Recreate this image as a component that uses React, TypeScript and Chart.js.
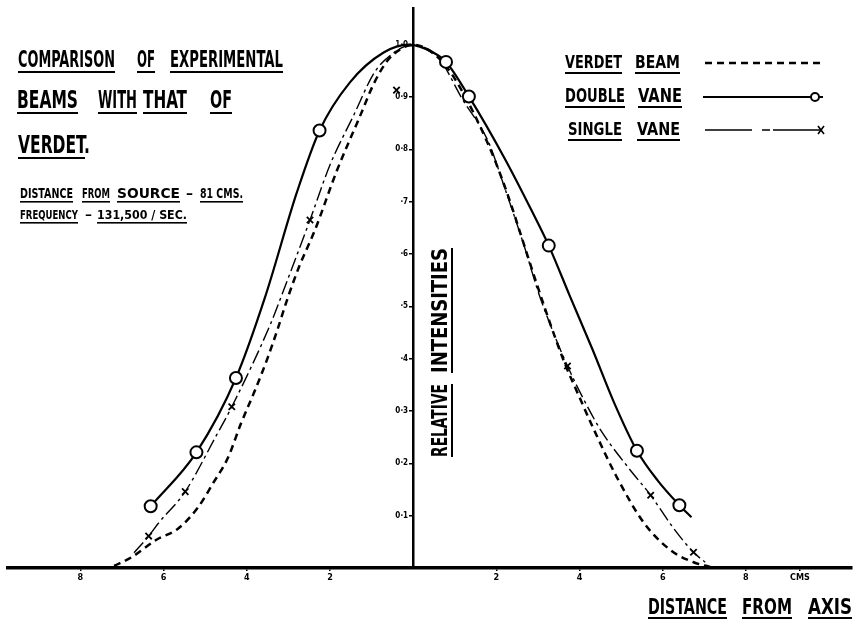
import { useEffect, useRef } from "react";
import { Chart, registerables } from "chart.js";

Chart.register(...registerables);

// ---- data (x in cm from axis, y = relative intensity) ----
const VERDET_X = [-7.19, -6.76, -6.19, -5.64, -5.17, -4.81, -4.45, -4.14, -3.81, -3.5, -3.26, -3.02, -2.74, -2.36, -1.83, -1.29, -0.93, -0.6, -0.29, 0.0, 0.55, 0.9, 1.26, 1.62, 1.98, 2.33, 2.64, 2.95, 3.29, 3.64, 3.95, 4.36, 4.9, 5.55, 6.19, 6.74, 7.14];
const VERDET_Y = [0.004, 0.021, 0.053, 0.076, 0.116, 0.162, 0.211, 0.276, 0.338, 0.401, 0.456, 0.515, 0.576, 0.646, 0.76, 0.861, 0.928, 0.971, 0.992, 1.0, 0.979, 0.947, 0.899, 0.842, 0.776, 0.7, 0.624, 0.548, 0.468, 0.392, 0.335, 0.262, 0.173, 0.086, 0.034, 0.011, 0.002];

const DOUBLE_X = [-6.31, -5.21, -4.26, -3.57, -2.79, -2.25, -1.52, -0.71, -0.1, 0.48, 0.79, 1.34, 2.21, 2.86, 3.26, 3.76, 4.31, 4.83, 5.38, 5.88, 6.4, 6.69];
const DOUBLE_Y = [0.118, 0.221, 0.363, 0.515, 0.719, 0.836, 0.928, 0.985, 1.0, 0.985, 0.967, 0.901, 0.781, 0.681, 0.616, 0.521, 0.418, 0.316, 0.224, 0.167, 0.12, 0.097];
const DOUBLE_MARK_X = [-6.31, -5.21, -4.26, -2.25, 0.79, 1.34, 3.26, 5.38, 6.4];
const DOUBLE_MARK_Y = [0.118, 0.221, 0.363, 0.836, 0.967, 0.901, 0.616, 0.224, 0.12];

const SINGLE_X = [-6.71, -6.36, -6.12, -5.48, -4.76, -4.36, -3.43, -3.17, -2.48, -2.0, -1.43, -0.93, -0.52, -0.1, 0.55, 1.19, 1.81, 2.21, 2.69, 3.0, 3.36, 3.71, 4.12, 4.52, 5.19, 5.71, 6.26, 6.74, 7.02];
const SINGLE_Y = [0.029, 0.061, 0.086, 0.146, 0.249, 0.308, 0.466, 0.519, 0.665, 0.77, 0.865, 0.947, 0.981, 0.998, 0.981, 0.895, 0.814, 0.724, 0.61, 0.529, 0.452, 0.386, 0.319, 0.262, 0.19, 0.139, 0.076, 0.03, 0.011];
const SINGLE_MARK_X = [-6.36, -5.48, -4.36, -2.48, -0.4, 3.71, 5.71, 6.74];
const SINGLE_MARK_Y = [0.061, 0.146, 0.308, 0.665, 0.913, 0.386, 0.139, 0.03];

const X_TICKS = [-8, -6, -4, -2, 2, 4, 6, 8, 9.3];
const X_TICK_LABELS = ["8", "6", "4", "2", "2", "4", "6", "8", "CMS"];
const Y_TICKS = [0.1, 0.2, 0.3, 0.4, 0.5, 0.6, 0.7, 0.8, 0.9, 1.0];
const Y_TICK_LABELS = ["0·1", "0·2", "0·3", "·4", "·5", "·6", "·7", "0·8", "0·9", "1·0"];

const TITLE_LINES = [
  ["COMPARISON", "OF", "EXPERIMENTAL"],
  ["BEAMS", "WITH", "THAT", "OF"],
  ["VERDET."],
];
const NOTE_LINES = [
  ["DISTANCE", "FROM", "SOURCE", "–", "81 CMS."],
  ["FREQUENCY", "–", "131,500 / SEC."],
];
const LEGEND_LABELS = [
  ["VERDET", "BEAM"],
  ["DOUBLE", "VANE"],
  ["SINGLE", "VANE"],
];
const X_TITLE = ["DISTANCE", "FROM", "AXIS"];
const Y_TITLE = ["RELATIVE", "INTENSITIES"];

const FONT = "'DejaVu Sans Condensed', 'Liberation Sans Narrow', 'DejaVu Sans', sans-serif";

const pts = (xs: number[], ys: number[]) => xs.map((x, i) => ({ x, y: ys[i] }));

function word(
  ctx: CanvasRenderingContext2D,
  text: string,
  x0: number,
  x1: number,
  base: number,
  cap: number,
  ul: boolean,
  ulGap = 4,
  ulW = 2
) {
  const size = cap / 0.73;
  ctx.font = `bold ${size}px ${FONT}`;
  const w = ctx.measureText(text).width;
  ctx.save();
  ctx.translate(x0, base);
  ctx.scale((x1 - x0) / w, 1);
  ctx.textBaseline = "alphabetic";
  ctx.textAlign = "left";
  ctx.fillText(text, 0, 0);
  ctx.restore();
  if (ul) ctx.fillRect(x0, base + ulGap, x1 - x0, ulW);
}

const textPlugin = {
  id: "handText",
  afterDraw(chart: any) {
    const ctx: CanvasRenderingContext2D = chart.ctx;
    ctx.save();
    ctx.fillStyle = "#000";
    ctx.strokeStyle = "#000";
    // title
    const t1 = [[18, 115], [137, 155], [170, 283]];
    TITLE_LINES[0].forEach((s, i) => word(ctx, s, t1[i][0], t1[i][1], 67, 17, true, 4, 2));
    const t2 = [[17, 78], [98, 137], [143, 187], [210, 232]];
    TITLE_LINES[1].forEach((s, i) => word(ctx, s, t2[i][0], t2[i][1], 108, 18, true, 4, 2));
    word(ctx, TITLE_LINES[2][0], 18, 90, 153, 18, false);
    ctx.fillRect(18, 157, 67, 2);
    const n1 = [[20, 73], [82, 110], [117, 180], [186, 193], [200, 243]];
    NOTE_LINES[0].forEach((s, i) => word(ctx, s, n1[i][0], n1[i][1], 198, 10, s !== "–", 3, 1.6));
    const n2 = [[20, 78], [85, 92], [97, 187]];
    NOTE_LINES[1].forEach((s, i) => word(ctx, s, n2[i][0], n2[i][1], 219, 9, s !== "–", 3, 1.6));

    // legend
    const lg = [
      [[565, 622], [635, 680], 68, 13],
      [[565, 625], [638, 682], 102, 14],
      [[568, 622], [637, 680], 135, 13],
    ] as any[];
    LEGEND_LABELS.forEach((pair, r) => {
      const [a, b, base, cap] = lg[r];
      word(ctx, pair[0], a[0], a[1], base, cap, true, 4, 2);
      word(ctx, pair[1], b[0], b[1], base, cap, true, 4, 2);
    });
    // legend samples
    ctx.lineWidth = 2.5;
    ctx.setLineDash([7, 5]);
    ctx.beginPath(); ctx.moveTo(705, 63); ctx.lineTo(820, 63); ctx.stroke();
    ctx.setLineDash([]);
    ctx.lineWidth = 2;
    ctx.beginPath(); ctx.moveTo(703, 97); ctx.lineTo(823, 97); ctx.stroke();
    ctx.beginPath(); ctx.arc(815, 97, 4, 0, Math.PI * 2);
    ctx.fillStyle = "#fff"; ctx.fill(); ctx.stroke();
    ctx.fillStyle = "#000";
    ctx.lineWidth = 1.6;
    ctx.setLineDash([47, 10, 8, 3]);
    ctx.beginPath(); ctx.moveTo(705, 130); ctx.lineTo(823, 130); ctx.stroke();
    ctx.setLineDash([]);
    ctx.beginPath(); ctx.moveTo(818, 126); ctx.lineTo(824, 134); ctx.moveTo(824, 126); ctx.lineTo(818, 134); ctx.stroke();

    // x title
    const xt = [[648, 727], [742, 792], [808, 852]];
    X_TITLE.forEach((s, i) => word(ctx, s, xt[i][0], xt[i][1], 614, 15, true, 3, 2));

    // y title (rotated)
    ctx.save();
    ctx.translate(447, 0);
    ctx.rotate(-Math.PI / 2);
    word(ctx, Y_TITLE[0], -457, -384, 0, 15, true, 4, 2);
    word(ctx, Y_TITLE[1], -373, -248, 0, 15, true, 4, 2);
    ctx.restore();
    ctx.restore();
  },
};

export default function App() {
  const ref = useRef<HTMLCanvasElement | null>(null);
  useEffect(() => {
    if (!ref.current) return;
    const chart = new Chart(ref.current, {
      type: "scatter",
      data: {
        datasets: [
          {
            label: "Double vane points",
            data: pts(DOUBLE_MARK_X, DOUBLE_MARK_Y),
            showLine: false,
            pointStyle: "circle",
            pointRadius: 6,
            pointBorderWidth: 2,
            pointBackgroundColor: "#fff",
            pointBorderColor: "#000",
            order: 0,
          },
          {
            label: "Single vane points",
            data: pts(SINGLE_MARK_X, SINGLE_MARK_Y),
            showLine: false,
            pointStyle: "crossRot",
            pointRadius: 4.5,
            pointBorderWidth: 1.8,
            pointBorderColor: "#000",
            order: 0,
          },
          {
            label: "Verdet beam",
            data: pts(VERDET_X, VERDET_Y),
            showLine: true,
            borderColor: "#000",
            borderWidth: 2.5,
            borderDash: [7, 5],
            pointRadius: 0,
            cubicInterpolationMode: "monotone",
            order: 2,
          },
          {
            label: "Double vane",
            data: pts(DOUBLE_X, DOUBLE_Y),
            showLine: true,
            borderColor: "#000",
            borderWidth: 2.2,
            pointRadius: 0,
            cubicInterpolationMode: "monotone",
            order: 1,
          },
          {
            label: "Single vane",
            data: pts(SINGLE_X, SINGLE_Y),
            showLine: true,
            borderColor: "#000",
            borderWidth: 1.4,
            borderDash: [14, 4, 3, 4],
            pointRadius: 0,
            cubicInterpolationMode: "monotone",
            order: 1,
          },
        ],
      },
      options: {
        responsive: false,
        animation: false,
        layout: { padding: { left: 8, right: 0, top: 5, bottom: 0 } },
        plugins: { legend: { display: false }, tooltip: { enabled: false } },
        scales: {
          x: {
            type: "linear",
            min: -9.74,
            max: 10.55,
            position: "bottom",
            afterFit: (s: any) => {
              s.height = 52;
            },
            afterBuildTicks: (s: any) => {
              s.ticks = X_TICKS.map((v) => ({ value: v }));
            },
            ticks: {
              autoSkip: false,
              maxRotation: 0,
              padding: 1,
              color: "#000",
              font: { family: FONT, size: 9, weight: "bold" },
              callback: (_v: any, i: number) => X_TICK_LABELS[i],
            },
            grid: { display: true, drawOnChartArea: false, tickLength: 3, color: "#000", lineWidth: 1.5 },
            border: { display: true, color: "#000", width: 3.5 },
          },
          y: {
            type: "linear",
            min: 0,
            max: 1.07,
            position: { x: 0 } as any,
            afterBuildTicks: (s: any) => {
              s.ticks = Y_TICKS.map((v) => ({ value: v }));
            },
            ticks: {
              autoSkip: false,
              padding: 0,
              color: "#000",
              font: { family: FONT, size: 8, weight: "bold" },
              callback: (_v: any, i: number) => Y_TICK_LABELS[i] + "\u2002\u2009",
            },
            grid: { display: true, drawOnChartArea: false, tickLength: 3, color: "#000", lineWidth: 1.5 },
            border: { display: true, color: "#000", width: 2.5 },
          },
        },
      },
      plugins: [textPlugin],
    } as any);
    return () => chart.destroy();
  }, []);
  return (
    <div style={{ position: "fixed", left: 0, top: 0, width: 860, height: 620, background: "#fff" }}>
      <canvas ref={ref} width={860} height={620} style={{ display: "block", width: 860, height: 620 }} />
    </div>
  );
}
